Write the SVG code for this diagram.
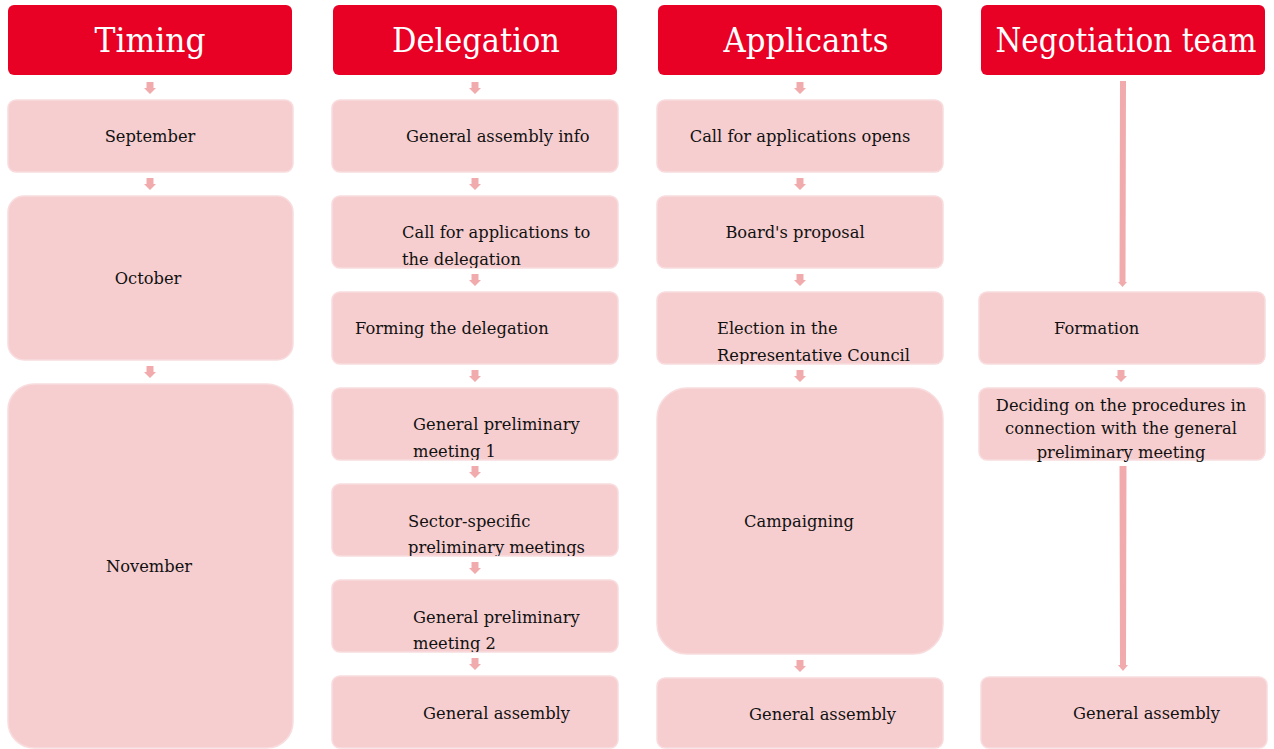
<svg xmlns="http://www.w3.org/2000/svg" width="1274" height="749" viewBox="0 0 1274 749">
<style>
.hdr{fill:#E90025}
.hdrt{fill:#fff;font-family:"DejaVu Serif","Liberation Serif",serif;font-size:33px;text-anchor:middle;dominant-baseline:central}
.box{fill:#F6CED0;stroke:#F9DDDE;stroke-width:1.5}
.t{fill:#111;font-family:"DejaVu Serif","Liberation Serif",serif;font-size:16.3px;dominant-baseline:central}
.c{text-anchor:middle}
.arr{fill:#F2ABAD}
</style>
<defs>
<path id="a" d="M-3.5,0 H3.5 V6 H6 L0,12 L-6,6 H-3.5 Z"/>
<clipPath id="cl1"><rect x="332" y="196" width="286" height="72"/></clipPath>
<clipPath id="cl2"><rect x="332" y="388" width="286" height="72"/></clipPath>
<clipPath id="cl3"><rect x="332" y="484" width="286" height="72"/></clipPath>
<clipPath id="cl4"><rect x="332" y="580" width="286" height="72"/></clipPath>
<clipPath id="cl5"><rect x="657" y="292" width="286" height="72"/></clipPath>
</defs>
<g id="h1"><rect class="hdr" x="8" y="5" width="284" height="70" rx="6"/><text class="hdrt" x="150" y="40" textLength="111" lengthAdjust="spacingAndGlyphs">Timing</text></g>
<g id="h2"><rect class="hdr" x="333" y="5" width="284" height="70" rx="6"/><text class="hdrt" x="476" y="40" textLength="168" lengthAdjust="spacingAndGlyphs">Delegation</text></g>
<g id="h3"><rect class="hdr" x="658" y="5" width="284" height="70" rx="6"/><text class="hdrt" x="806" y="40" textLength="165" lengthAdjust="spacingAndGlyphs">Applicants</text></g>
<g id="h4"><rect class="hdr" x="981" y="5" width="284" height="70" rx="6"/><text class="hdrt" style="font-size:29.5px" transform="translate(1126,40) scale(1,1.12)" x="0" y="0">Negotiation team</text></g>

<g id="t1"><rect class="box" x="8" y="100" width="285" height="72" rx="8"/><text class="t c" x="150" y="136">September</text></g>
<g id="t2"><rect class="box" x="8" y="196" width="285" height="164" rx="16"/><text class="t c" x="148" y="278">October</text></g>
<g id="t3"><rect class="box" x="8" y="384" width="285" height="364" rx="26"/><text class="t c" x="149" y="566">November</text></g>

<g id="d1"><rect class="box" x="332" y="100" width="286" height="72" rx="8"/><text class="t" x="406" y="136">General assembly info</text></g>
<g id="d2"><rect class="box" x="332" y="196" width="286" height="72" rx="8"/><g clip-path="url(#cl1)"><text class="t" x="402" y="232">Call for applications to</text><text class="t" x="402" y="259">the delegation</text></g></g>
<g id="d3"><rect class="box" x="332" y="292" width="286" height="72" rx="8"/><text class="t" x="355" y="328">Forming the delegation</text></g>
<g id="d4"><rect class="box" x="332" y="388" width="286" height="72" rx="8"/><g clip-path="url(#cl2)"><text class="t" x="413" y="424">General preliminary</text><text class="t" x="413" y="451">meeting 1</text></g></g>
<g id="d5"><rect class="box" x="332" y="484" width="286" height="72" rx="8"/><g clip-path="url(#cl3)"><text class="t" x="408" y="521">Sector-specific</text><text class="t" x="408" y="547">preliminary meetings</text></g></g>
<g id="d6"><rect class="box" x="332" y="580" width="286" height="72" rx="8"/><g clip-path="url(#cl4)"><text class="t" x="413" y="617">General preliminary</text><text class="t" x="413" y="643">meeting 2</text></g></g>
<g id="d7"><rect class="box" x="332" y="676" width="286" height="72" rx="8"/><text class="t" x="423" y="713">General assembly</text></g>

<g id="p1"><rect class="box" x="657" y="100" width="286" height="72" rx="8"/><text class="t c" x="800" y="136">Call for applications opens</text></g>
<g id="p2"><rect class="box" x="657" y="196" width="286" height="72" rx="8"/><text class="t c" x="795" y="232">Board's proposal</text></g>
<g id="p3"><rect class="box" x="657" y="292" width="286" height="72" rx="8"/><g clip-path="url(#cl5)"><text class="t" x="717" y="328">Election in the</text><text class="t" x="717" y="355">Representative Council</text></g></g>
<g id="p4"><rect class="box" x="657" y="388" width="286" height="266" rx="30"/><text class="t" x="744" y="521">Campaigning</text></g>
<g id="p5"><rect class="box" x="657" y="678" width="286" height="70" rx="8"/><text class="t" x="749" y="714">General assembly</text></g>

<g id="n1"><rect class="box" x="979" y="292" width="286" height="72" rx="8"/><text class="t" x="1054" y="328">Formation</text></g>
<g id="n2"><rect class="box" x="979" y="388" width="286" height="72" rx="8"/><text class="t c" x="1121" y="405">Deciding on the procedures in</text><text class="t c" x="1121" y="428">connection with the general</text><text class="t c" x="1121" y="452">preliminary meeting</text></g>
<g id="n3"><rect class="box" x="981" y="677" width="286" height="71" rx="8"/><text class="t" x="1073" y="713">General assembly</text></g>

<g id="connectors">
<use class="arr" href="#a" x="150" y="82"/>
<use class="arr" href="#a" x="150" y="178"/>
<use class="arr" href="#a" x="150" y="366"/>
<use class="arr" href="#a" x="475" y="82"/>
<use class="arr" href="#a" x="475" y="178"/>
<use class="arr" href="#a" x="475" y="274"/>
<use class="arr" href="#a" x="475" y="370"/>
<use class="arr" href="#a" x="475" y="466"/>
<use class="arr" href="#a" x="475" y="562"/>
<use class="arr" href="#a" x="475" y="658"/>
<use class="arr" href="#a" x="800" y="82"/>
<use class="arr" href="#a" x="800" y="178"/>
<use class="arr" href="#a" x="800" y="274"/>
<use class="arr" href="#a" x="800" y="370"/>
<use class="arr" href="#a" x="800" y="660"/>
<use class="arr" href="#a" x="1121" y="370"/>
<path class="arr" d="M1120,81 H1126 L1125.5,282 H1127 L1122.5,287 L1118,282 H1119.5 Z"/>
<path class="arr" d="M1119.5,466 H1126.5 L1126,665 H1128 L1123,671 L1118,665 H1120 Z"/>
</g>
</svg>
